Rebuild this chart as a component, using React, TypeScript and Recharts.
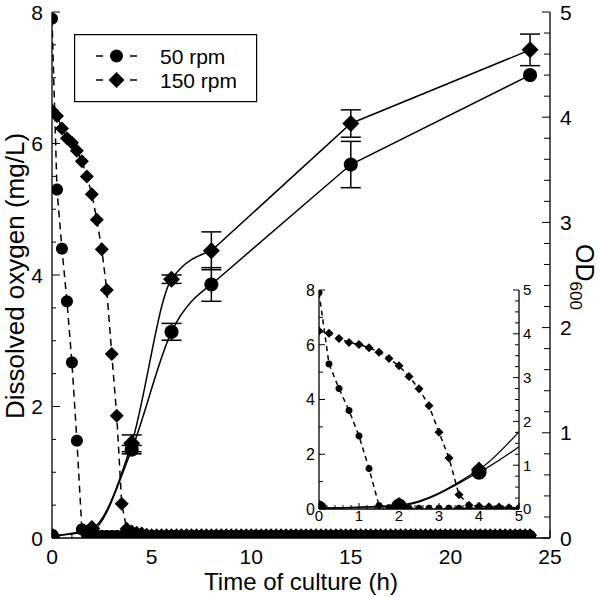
import React from 'react'
import { ComposedChart, Line, XAxis, YAxis, Legend, ErrorBar } from 'recharts'

const FONT = '"Liberation Sans", Arial, Helvetica, sans-serif'

// dissolved oxygen sampling times (h)
const doTimes = [
  0, 0.25, 0.5, 0.75, 1, 1.25, 1.5, 1.75,
  2, 2.25, 2.5, 2.75, 3, 3.25, 3.5, 3.75,
  4, 4.25, 4.5, 4.75, 5, 5.25, 5.5, 5.75,
  6, 6.25, 6.5, 6.75, 7, 7.25, 7.5, 7.75,
  8, 8.25, 8.5, 8.75, 9, 9.25, 9.5, 9.75,
  10, 10.25, 10.5, 10.75, 11, 11.25, 11.5, 11.75,
  12, 12.25, 12.5, 12.75, 13, 13.25, 13.5, 13.75,
  14, 14.25, 14.5, 14.75, 15, 15.25, 15.5, 15.75,
  16, 16.25, 16.5, 16.75, 17, 17.25, 17.5, 17.75,
  18, 18.25, 18.5, 18.75, 19, 19.25, 19.5, 19.75,
  20, 20.25, 20.5, 20.75, 21, 21.25, 21.5, 21.75,
  22, 22.25, 22.5, 22.75, 23, 23.25, 23.5, 23.75,
  24,
]

// dissolved oxygen (mg/L)
const do50rpm = [
  7.9, 5.3, 4.4, 3.6, 2.67, 1.48, 0.13, 0.05,
  0.03, 0.03, 0.03, 0.03, 0.03, 0.03, 0.03, 0.03,
  0.03, 0.03, 0.03, 0.03, 0.03, 0.03, 0.03, 0.03,
  0.03, 0.03, 0.03, 0.03, 0.03, 0.03, 0.03, 0.03,
  0.03, 0.03, 0.03, 0.03, 0.03, 0.03, 0.03, 0.03,
  0.03, 0.03, 0.03, 0.03, 0.03, 0.03, 0.03, 0.03,
  0.03, 0.03, 0.03, 0.03, 0.03, 0.03, 0.03, 0.03,
  0.03, 0.03, 0.03, 0.03, 0.03, 0.03, 0.03, 0.03,
  0.03, 0.03, 0.03, 0.03, 0.03, 0.03, 0.03, 0.03,
  0.03, 0.03, 0.03, 0.03, 0.03, 0.03, 0.03, 0.03,
  0.03, 0.03, 0.03, 0.03, 0.03, 0.03, 0.03, 0.03,
  0.03, 0.03, 0.03, 0.03, 0.03, 0.03, 0.03, 0.03,
  0.03,
]
const do150rpm = [
  6.5, 6.42, 6.23, 6.08, 6.01, 5.89, 5.73, 5.5,
  5.23, 4.84, 4.39, 3.77, 2.8, 1.86, 0.52, 0.14,
  0.1, 0.08, 0.07, 0.05, 0.04, 0.04, 0.04, 0.04,
  0.04, 0.04, 0.04, 0.04, 0.04, 0.04, 0.04, 0.04,
  0.04, 0.04, 0.04, 0.04, 0.04, 0.04, 0.04, 0.04,
  0.04, 0.04, 0.04, 0.04, 0.04, 0.04, 0.04, 0.04,
  0.04, 0.04, 0.04, 0.04, 0.04, 0.04, 0.04, 0.04,
  0.04, 0.04, 0.04, 0.04, 0.04, 0.04, 0.04, 0.04,
  0.04, 0.04, 0.04, 0.04, 0.04, 0.04, 0.04, 0.04,
  0.04, 0.04, 0.04, 0.04, 0.04, 0.04, 0.04, 0.04,
  0.04, 0.04, 0.04, 0.04, 0.04, 0.04, 0.04, 0.04,
  0.04, 0.04, 0.04, 0.04, 0.04, 0.04, 0.04, 0.04,
  0.04,
]

// OD600 readings
const odTimes = [0, 2, 4, 6, 8, 15, 24]
const od50rpm = [0.02, 0.07, 0.84, 1.96, 2.41, 3.55, 4.4]
const od50rpmErr = [0, 0, 0.04, 0.08, 0.16, 0.22, 0]
const od150rpm = [0.02, 0.09, 0.9, 2.46, 2.73, 3.94, 4.64]
const od150rpmErr = [0, 0, 0.08, 0.04, 0.18, 0.13, 0.15]

const seriesNames = ['50 rpm', '150 rpm']

// tick positions and labelled ticks
const mainTimeTicks = [0, 1, 2, 3, 4, 5, 6, 7, 8, 9, 10, 11, 12, 13, 14, 15, 16, 17, 18, 19, 20, 21, 22, 23, 24, 25]
const mainTimeLabels = [0, 5, 10, 15, 20, 25]
const mainDoTicks = [0, 0.5, 1, 1.5, 2, 2.5, 3, 3.5, 4, 4.5, 5, 5.5, 6, 6.5, 7, 7.5, 8]
const mainDoLabels = [0, 2, 4, 6, 8]
const mainOdTicks = [0, 0.2, 0.4, 0.6, 0.8, 1, 1.2, 1.4, 1.6, 1.8, 2, 2.2, 2.4, 2.6, 2.8, 3, 3.2, 3.4, 3.6, 3.8, 4, 4.2, 4.4, 4.6, 4.8, 5]
const mainOdLabels = [0, 1, 2, 3, 4, 5]
const insetTimeTicks = [0, 0.2, 0.4, 0.6, 0.8, 1, 1.2, 1.4, 1.6, 1.8, 2, 2.2, 2.4, 2.6, 2.8, 3, 3.2, 3.4, 3.6, 3.8, 4, 4.2, 4.4, 4.6, 4.8, 5]
const insetTimeLabels = [0, 1, 2, 3, 4, 5]
const insetDoTicks = [0, 1, 2, 3, 4, 5, 6, 7, 8]
const insetDoLabels = [0, 2, 4, 6, 8]
const insetOdTicks = [0, 0.25, 0.5, 0.75, 1, 1.25, 1.5, 1.75, 2, 2.25, 2.5, 2.75, 3, 3.25, 3.5, 3.75, 4, 4.25, 4.5, 4.75, 5]
const insetOdLabels = [0, 1, 2, 3, 4, 5]

const doData = doTimes.map((t, i) => ({ t, do50: do50rpm[i], do150: do150rpm[i] }))
const odData = odTimes.map((t, i) => ({
  t,
  od50: od50rpm[i],
  od50Err: od50rpmErr[i],
  od150: od150rpm[i],
  od150Err: od150rpmErr[i],
}))
// smoothed early growth, straight segments afterwards
const odEarly = odData.filter((d) => d.t <= 8)
const odLate = odData.filter((d) => d.t >= 8)

// plot frames (follow from the chart margins and axis sizes below)
type Frame = { x: number; y: number; w: number; h: number }
const mainFrame: Frame = { x: 52, y: 12, w: 498, h: 526 }
const insetFrame: Frame = { x: 30, y: 11, w: 200, h: 219 }

type Side = 'left' | 'right' | 'top' | 'bottom'
interface TickOpts {
  side: Side
  labels: number[]
  major: number
  minor: number
  fontSize?: number
  gap?: number
  text?: boolean
}

// inward tick marks, label only on the major ones
function renderTick(o: TickOpts) {
  return (props: any) => {
    const { x, y, payload } = props
    const v = payload.value
    const isMajor = o.labels.some((m) => Math.abs(m - v) < 1e-6)
    const len = isMajor ? o.major : o.minor
    const fs = o.fontSize ?? 20
    const gap = o.gap ?? 8
    const showText = o.text !== false && isMajor
    let line = null
    let label = null
    if (o.side === 'left') {
      line = <line x1={x} x2={x + len} y1={y} y2={y} stroke="#000" strokeWidth={1} />
      if (showText) label = <text x={x - gap} y={y} dy="0.36em" textAnchor="end" fontSize={fs} fontFamily={FONT} fill="#000">{v}</text>
    } else if (o.side === 'right') {
      line = <line x1={x - len} x2={x} y1={y} y2={y} stroke="#000" strokeWidth={1} />
      if (showText) label = <text x={x + gap} y={y} dy="0.36em" textAnchor="start" fontSize={fs} fontFamily={FONT} fill="#000">{v}</text>
    } else if (o.side === 'bottom') {
      line = <line x1={x} x2={x} y1={y - len} y2={y} stroke="#000" strokeWidth={1} />
      if (showText) label = <text x={x} y={y + gap} textAnchor="middle" fontSize={fs} fontFamily={FONT} fill="#000">{v}</text>
    } else {
      line = <line x1={x} x2={x} y1={y} y2={y + len} stroke="#000" strokeWidth={1} />
    }
    return (
      <g>
        {line}
        {label}
      </g>
    )
  }
}

// markers are cut at the plot frame, as in the original (polygon clipping)
type Pt = [number, number]
function cutAt(a: Pt, b: Pt, axis: number, bound: number): Pt {
  const k = (bound - a[axis]) / (b[axis] - a[axis])
  return [a[0] + k * (b[0] - a[0]), a[1] + k * (b[1] - a[1])]
}
function clipToFrame(pts: Pt[], f: Frame): Pt[] {
  const planes: [number, number, number][] = [
    [0, f.x, 1],
    [0, f.x + f.w, -1],
    [1, f.y, 1],
    [1, f.y + f.h, -1],
  ]
  let out = pts
  for (const [axis, bound, sign] of planes) {
    const input = out
    out = []
    for (let i = 0; i < input.length; i++) {
      const cur = input[i]
      const prev = input[(i + input.length - 1) % input.length]
      const inCur = sign * (cur[axis] - bound) >= 0
      const inPrev = sign * (prev[axis] - bound) >= 0
      if (inCur) {
        if (!inPrev) out.push(cutAt(prev, cur, axis, bound))
        out.push(cur)
      } else if (inPrev) {
        out.push(cutAt(prev, cur, axis, bound))
      }
    }
    if (!out.length) break
  }
  return out
}
function polyPath(pts: Pt[]) {
  return pts.map((p, i) => `${i ? 'L' : 'M'}${p[0].toFixed(2)},${p[1].toFixed(2)}`).join('') + 'Z'
}
const CIRCLE_STEPS = 36

const circleDot = (r: number, f: Frame) => (p: any) => {
  const key = `c-${p.index}`
  if (p.cx == null || p.cy == null) return <g key={key} />
  const pts: Pt[] = []
  for (let i = 0; i < CIRCLE_STEPS; i++) {
    const a = (i / CIRCLE_STEPS) * Math.PI * 2
    pts.push([p.cx + r * Math.cos(a), p.cy + r * Math.sin(a)])
  }
  const kept = clipToFrame(pts, f)
  if (kept.length < 3) return <g key={key} />
  return <path key={key} d={polyPath(kept)} fill="#000" />
}

const diamondDot = (h: number, f: Frame) => (p: any) => {
  const key = `d-${p.index}`
  if (p.cx == null || p.cy == null) return <g key={key} />
  const { cx, cy } = p
  const kept = clipToFrame([[cx, cy - h], [cx + h, cy], [cx, cy + h], [cx - h, cy]], f)
  if (kept.length < 3) return <g key={key} />
  return <path key={key} d={polyPath(kept)} fill="#000" />
}

const axisStroke = { stroke: '#000', strokeWidth: 1.3 }

function LegendBox() {
  const rows = [
    { name: seriesNames[0], y: 22, dot: <circle cx={42.5} cy={22} r={6.5} fill="#000" /> },
    { name: seriesNames[1], y: 46, dot: <path d="M42.5,38L50.5,46L42.5,54L34.5,46Z" fill="#000" /> },
  ]
  return (
    <svg width={184} height={70} style={{ display: 'block' }}>
      <rect x={0.6} y={0.6} width={182} height={67} fill="#fff" stroke="#000" strokeWidth={1.2} />
      {rows.map((r) => (
        <g key={r.name}>
          <line x1={22} x2={29} y1={r.y} y2={r.y} stroke="#000" strokeWidth={1.5} />
          <line x1={56} x2={63} y1={r.y} y2={r.y} stroke="#000" strokeWidth={1.5} />
          {r.dot}
          <text x={86} y={r.y + 7.5} fontSize={21} fontFamily={FONT} fill="#000">{r.name}</text>
        </g>
      ))}
    </svg>
  )
}

export default function App() {
  return (
    <div style={{ position: 'absolute', left: 0, top: 0, width: 600, height: 597, background: '#fff' }}>
      <ComposedChart width={600} height={597} margin={{ top: 12, right: 0, bottom: 0, left: 0 }}>
        <XAxis
          xAxisId="t" dataKey="t" type="number" domain={[0, 25]} allowDataOverflow
          ticks={mainTimeTicks} interval={0} height={59} tickSize={0} tickMargin={0} tickLine={false}
          axisLine={axisStroke}
          tick={renderTick({ side: 'bottom', labels: mainTimeLabels, major: 8, minor: 4, fontSize: 21, gap: 26 })}
          label={() => (
            <text x={301} y={590} textAnchor="middle" fontSize={24} fontFamily={FONT} fill="#000">Time of culture (h)</text>
          )}
        />
        <XAxis
          xAxisId="top" orientation="top" type="number" domain={[0, 25]} allowDataOverflow
          ticks={mainTimeTicks} interval={0} height={0} tickSize={0} tickMargin={0} tickLine={false}
          axisLine={axisStroke}
          tick={renderTick({ side: 'top', labels: mainTimeLabels, major: 8, minor: 4, text: false })}
        />
        <YAxis
          yAxisId="do" type="number" domain={[0, 8]} allowDataOverflow
          ticks={mainDoTicks} interval={0} width={52} tickSize={0} tickMargin={0} tickLine={false}
          axisLine={axisStroke}
          tick={renderTick({ side: 'left', labels: mainDoLabels, major: 8, minor: 4, fontSize: 21, gap: 9 })}
          label={() => (
            <text x={24} y={276} transform="rotate(-90 24 276)" textAnchor="middle" fontSize={26} fontFamily={FONT} fill="#000">Dissolved oxygen (mg/L)</text>
          )}
        />
        <YAxis
          yAxisId="od" orientation="right" type="number" domain={[0, 5]} allowDataOverflow
          ticks={mainOdTicks} interval={0} width={50} tickSize={0} tickMargin={0} tickLine={false}
          axisLine={axisStroke}
          tick={renderTick({ side: 'right', labels: mainOdLabels, major: 8, minor: 6, fontSize: 21, gap: 10 })}
          label={() => (
            <text x={576} y={277} transform="rotate(90 576 277)" textAnchor="middle" fontSize={25} fontFamily={FONT} fill="#000">
              OD<tspan fontSize={17} dy={6}>600</tspan>
            </text>
          )}
        />
        <Line
          xAxisId="t" yAxisId="do" data={doData} dataKey="do50" name={seriesNames[0]}
          stroke="#000" strokeWidth={1.5} strokeDasharray="7 5" dot={circleDot(6, mainFrame)} activeDot={false}
          isAnimationActive={false}
        />
        <Line
          xAxisId="t" yAxisId="do" data={doData} dataKey="do150" name={seriesNames[1]}
          stroke="#000" strokeWidth={1.5} strokeDasharray="7 5" dot={diamondDot(7, mainFrame)} activeDot={false}
          isAnimationActive={false}
        />
        <Line
          xAxisId="t" yAxisId="od" type="monotone" data={odEarly} dataKey="od50" legendType="none"
          stroke="#000" strokeWidth={1.5} dot={false} activeDot={false} isAnimationActive={false}
        />
        <Line
          xAxisId="t" yAxisId="od" type="linear" data={odLate} dataKey="od50" legendType="none"
          stroke="#000" strokeWidth={1.5} dot={false} activeDot={false} isAnimationActive={false}
        />
        <Line
          xAxisId="t" yAxisId="od" type="monotone" data={odEarly} dataKey="od150" legendType="none"
          stroke="#000" strokeWidth={1.5} dot={false} activeDot={false} isAnimationActive={false}
        />
        <Line
          xAxisId="t" yAxisId="od" type="linear" data={odLate} dataKey="od150" legendType="none"
          stroke="#000" strokeWidth={1.5} dot={false} activeDot={false} isAnimationActive={false}
        />
        <Line
          xAxisId="t" yAxisId="od" data={odData} dataKey="od50" legendType="none" stroke="none"
          dot={circleDot(7, mainFrame)} activeDot={false} isAnimationActive={false}
        >
          <ErrorBar dataKey="od50Err" width={10} stroke="#000" strokeWidth={1.5} direction="y" isAnimationActive={false} />
        </Line>
        <Line
          xAxisId="t" yAxisId="od" data={odData} dataKey="od150" legendType="none" stroke="none"
          dot={diamondDot(8.5, mainFrame)} activeDot={false} isAnimationActive={false}
        >
          <ErrorBar dataKey="od150Err" width={10} stroke="#000" strokeWidth={1.5} direction="y" isAnimationActive={false} />
        </Line>
        <Legend
          layout="horizontal" verticalAlign="middle" align="center"
          wrapperStyle={{ left: 74, top: 34, width: 184, height: 70 }}
          content={() => <LegendBox />}
        />
      </ComposedChart>

      <div style={{ position: 'absolute', left: 289, top: 279 }}>
        <ComposedChart width={256} height={250} margin={{ top: 11, right: 0, bottom: 0, left: 0 }}>
          <XAxis
            xAxisId="t" dataKey="t" type="number" domain={[0, 5]} allowDataOverflow
            ticks={insetTimeTicks} interval={0} height={20} tickSize={0} tickMargin={0} tickLine={false}
            axisLine={axisStroke}
            tick={renderTick({ side: 'bottom', labels: insetTimeLabels, major: 6, minor: 4, fontSize: 15, gap: 12 })}
          />
          <XAxis
            xAxisId="top" orientation="top" type="number" domain={[0, 5]} allowDataOverflow
            ticks={insetTimeTicks} interval={0} height={0} tickSize={0} tickMargin={0} tickLine={false}
            axisLine={axisStroke}
            tick={renderTick({ side: 'top', labels: insetTimeLabels, major: 6, minor: 4, text: false })}
          />
          <YAxis
            yAxisId="do" type="number" domain={[0, 8]} allowDataOverflow
            ticks={insetDoTicks} interval={0} width={30} tickSize={0} tickMargin={0} tickLine={false}
            axisLine={axisStroke}
            tick={renderTick({ side: 'left', labels: insetDoLabels, major: 6, minor: 4, fontSize: 16, gap: 4 })}
          />
          <YAxis
            yAxisId="od" orientation="right" type="number" domain={[0, 5]} allowDataOverflow
            ticks={insetOdTicks} interval={0} width={26} tickSize={0} tickMargin={0} tickLine={false}
            axisLine={axisStroke}
            tick={renderTick({ side: 'right', labels: insetOdLabels, major: 6, minor: 4, fontSize: 15, gap: 4 })}
          />
          <Line
            xAxisId="t" yAxisId="do" data={doData} dataKey="do50" stroke="#000" strokeWidth={1.5}
            strokeDasharray="5 4" dot={circleDot(3.5, insetFrame)} activeDot={false} isAnimationActive={false}
          />
          <Line
            xAxisId="t" yAxisId="do" data={doData} dataKey="do150" stroke="#000" strokeWidth={1.5}
            strokeDasharray="5 4" dot={diamondDot(4.5, insetFrame)} activeDot={false} isAnimationActive={false}
          />
          <Line
            xAxisId="t" yAxisId="od" type="monotone" data={odEarly} dataKey="od50" stroke="#000"
            strokeWidth={1.3} dot={circleDot(7.5, insetFrame)} activeDot={false} isAnimationActive={false}
          />
          <Line
            xAxisId="t" yAxisId="od" type="monotone" data={odEarly} dataKey="od150" stroke="#000"
            strokeWidth={1.3} dot={diamondDot(8, insetFrame)} activeDot={false} isAnimationActive={false}
          />
        </ComposedChart>
      </div>
    </div>
  )
}
